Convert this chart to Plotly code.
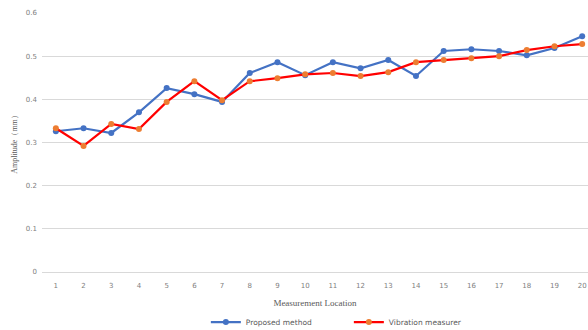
import plotly.graph_objects as go

locations = list(range(1, 21))
proposed = [0.326, 0.333, 0.322, 0.370, 0.426, 0.412, 0.394, 0.461, 0.486, 0.456,
            0.486, 0.472, 0.491, 0.454, 0.512, 0.516, 0.512, 0.502, 0.519, 0.546]
vibration = [0.333, 0.292, 0.343, 0.331, 0.394, 0.442, 0.398, 0.442, 0.449, 0.458,
             0.461, 0.454, 0.463, 0.486, 0.491, 0.495, 0.500, 0.514, 0.523, 0.528]
y_ticks = [0, 0.1, 0.2, 0.3, 0.4, 0.5, 0.6]
y_ticklabels = ["0", "0.1", "0.2", "0.3", "0.4", "0.5", "0.6"]

fig = go.Figure()
fig.add_trace(go.Scatter(
    x=locations, y=proposed, name="Proposed method", mode="lines+markers",
    line=dict(color="#4472C4", width=2.2),
    marker=dict(color="#4472C4", size=6),
))
fig.add_trace(go.Scatter(
    x=locations, y=vibration, name="Vibration measurer", mode="lines+markers",
    line=dict(color="#FF0000", width=2.2),
    marker=dict(color="#ED7D31", size=6),
))

fig.update_layout(
    width=588, height=330,
    margin=dict(l=42, r=0, t=13, b=58),
    paper_bgcolor="white", plot_bgcolor="white",
    font=dict(family="DejaVu Sans", size=7, color="#808080"),
    showlegend=True,
    legend=dict(orientation="h", x=0.562, xanchor="center",
                yref="container", y=0.024, yanchor="middle",
                font=dict(family="DejaVu Sans", size=7.5, color="#595959"),
                itemwidth=30, entrywidth=98),
    xaxis=dict(
        range=[0.5, 20.21], tickmode="array", tickvals=locations,
        ticktext=[str(v) for v in locations], showgrid=False, zeroline=False,
        showline=True, linecolor="#D9D9D9", linewidth=1,
        ticks="", tickfont=dict(size=7, color="#808080"),
        automargin=False, ticklabelstandoff=7,
        title=dict(text="Measurement Location",
                   font=dict(family="Liberation Serif", size=9, color="#595959"),
                   standoff=11),
    ),
    yaxis=dict(
        range=[0, 0.6], tickmode="array", tickvals=y_ticks, ticktext=y_ticklabels,
        showgrid=True, gridcolor="#D9D9D9", gridwidth=1, zeroline=False,
        showline=False, ticks="", tickfont=dict(size=7, color="#808080"),
        automargin=False, ticklabelstandoff=4,
        title=dict(text="Amplitude（mm）",
                   font=dict(family="Liberation Serif", size=8, color="#595959"),
                   standoff=7),
    ),
)

fig.write_html("out.html", config={"displayModeBar": False},
               post_script="document.body.style.margin='0';document.body.style.overflow='hidden';")
